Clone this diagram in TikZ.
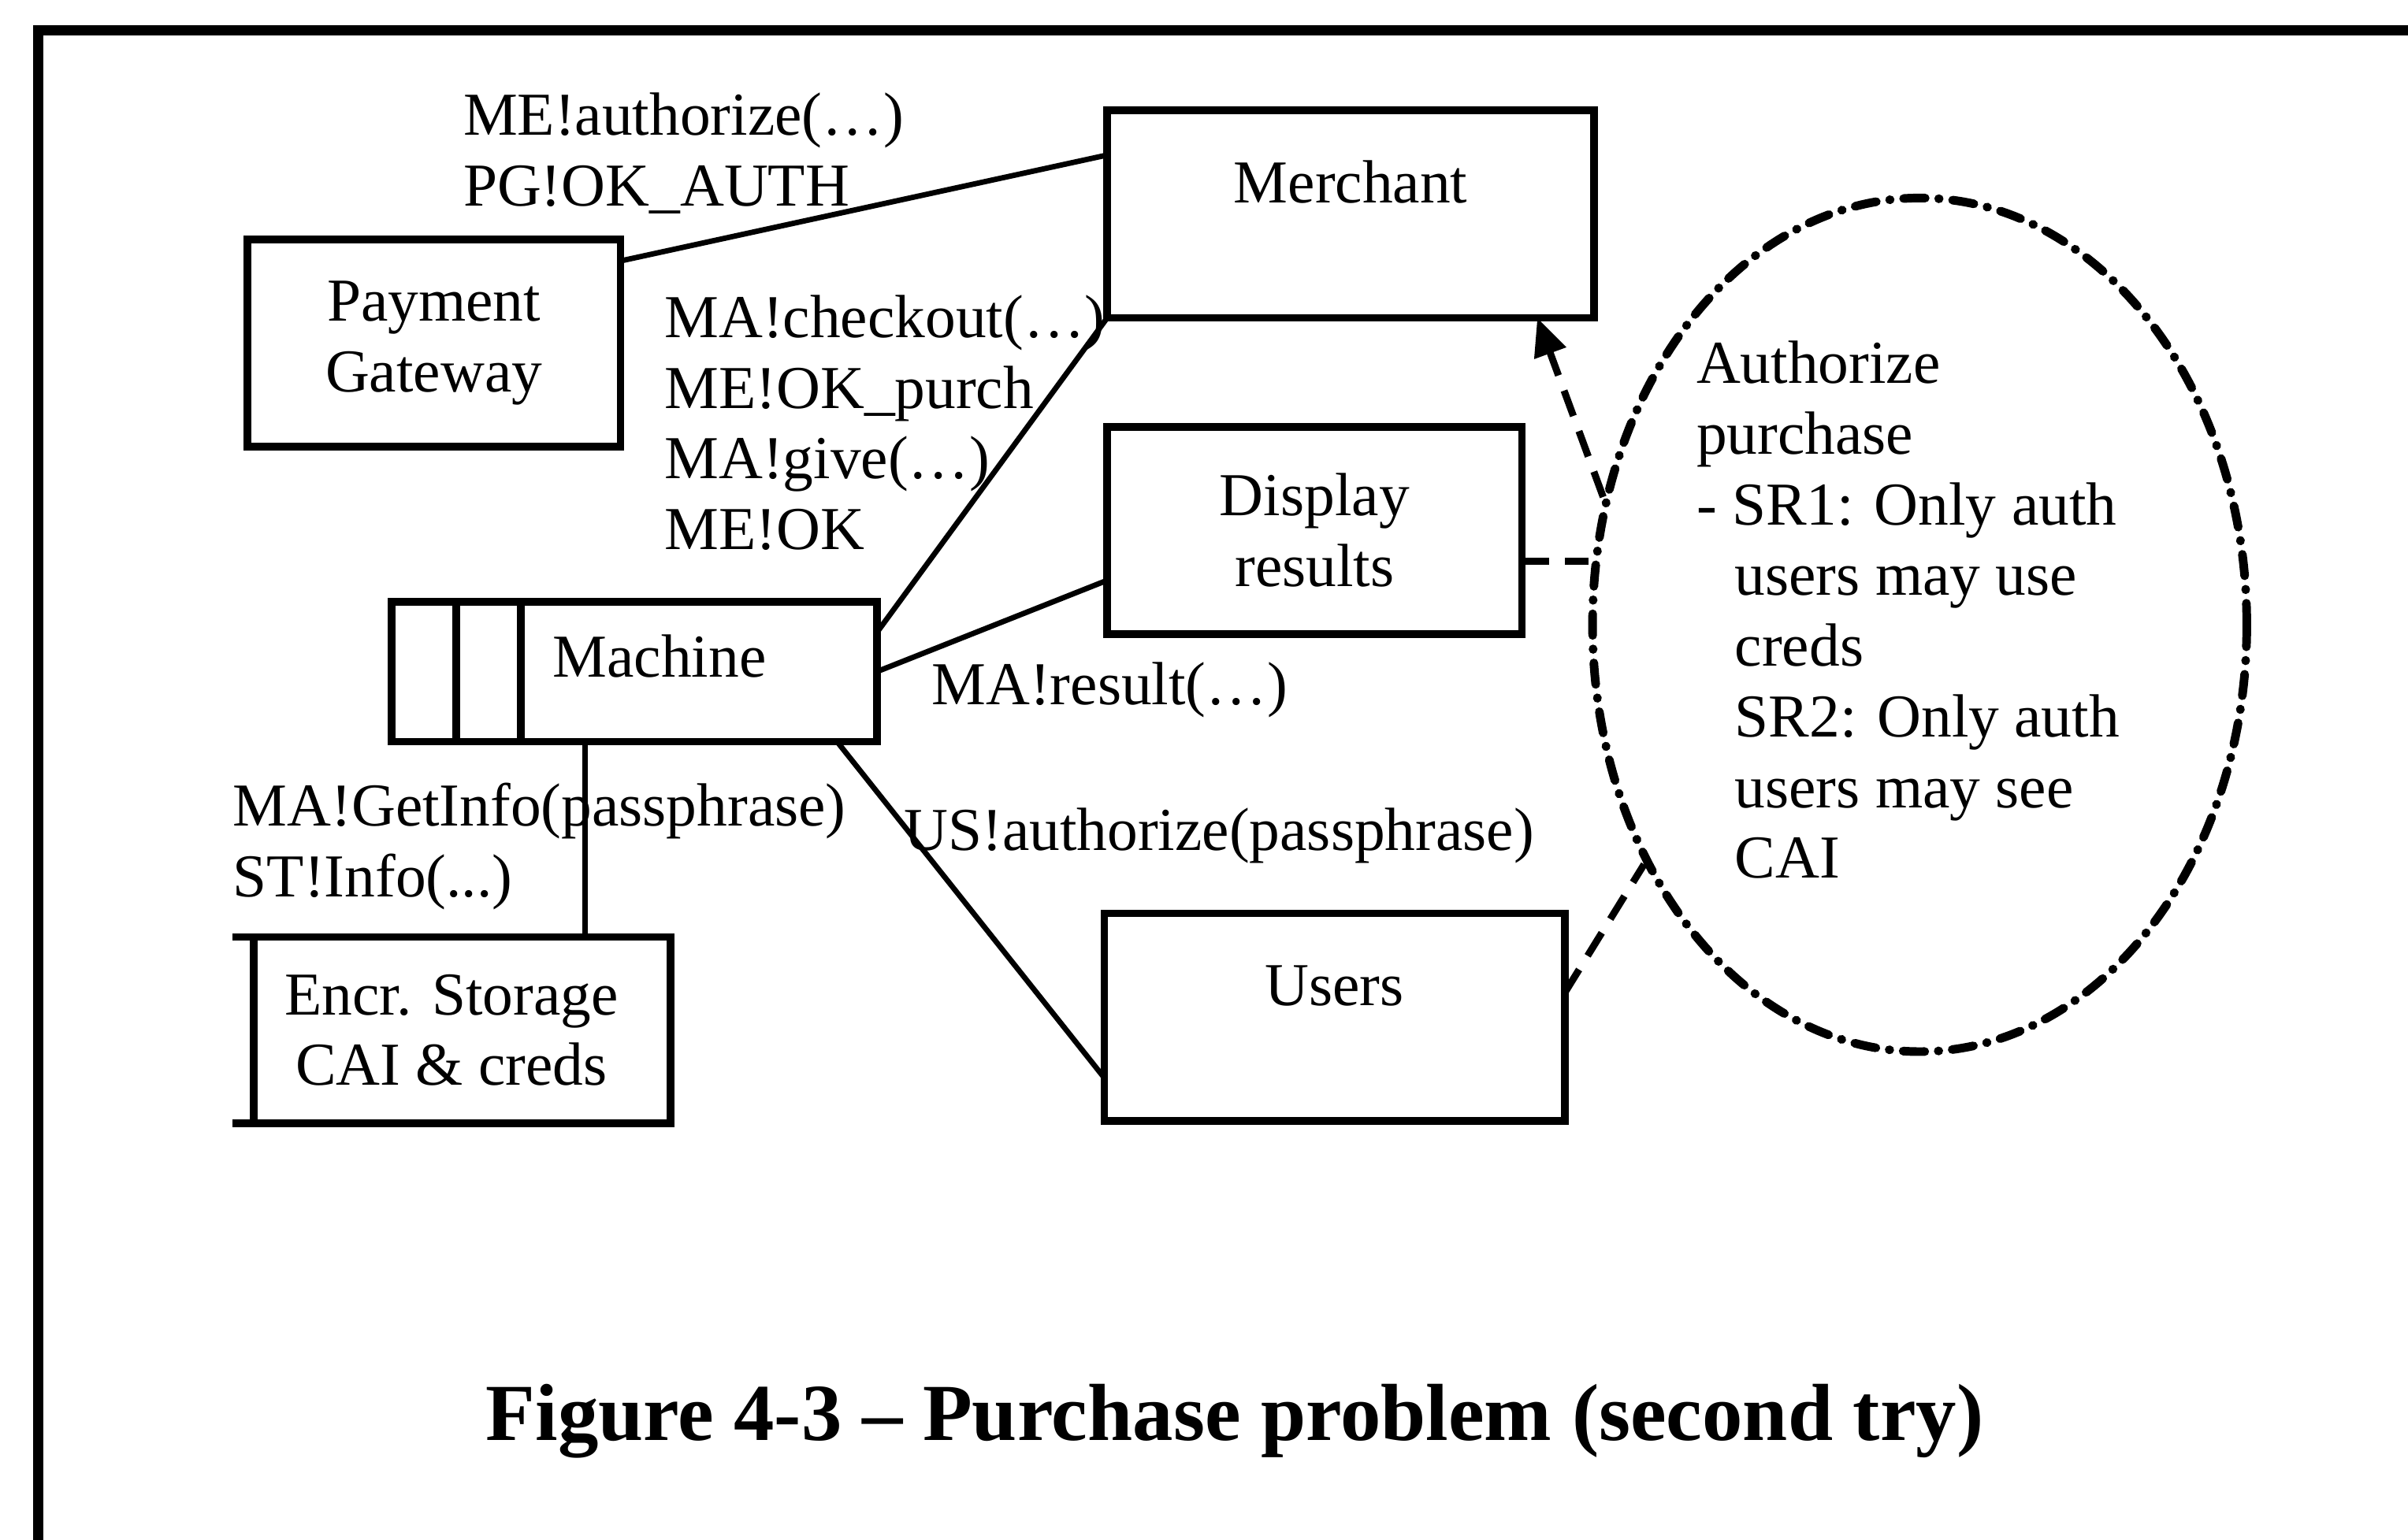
\documentclass[tikz,border=0pt]{standalone}
\usepackage{fontspec}
\setmainfont{Liberation Serif}
\usepackage{tikz}
\usetikzlibrary{positioning}
\usetikzlibrary{shapes.geometric}
\usetikzlibrary{arrows.meta}

\begin{document}
\begin{tikzpicture}[
			every node/.style={font=\fontsize{11.3}{13.1}\selectfont, inner sep=0pt},
			unitbox/.style={draw, line width=1.4pt, inner sep=0pt, outer sep=0pt, minimum height=1.35cm, align=center},
			topbox/.style={unitbox, text height=0.3cm, text depth=0.45cm, inner ysep=0.3cm},
			link/.style={line width=1pt},
			dashlink/.style={line width=1.3pt, dash pattern=on 5pt off 3pt},
			msg/.style={align=left, anchor=base west}
		]
			    		\useasboundingbox (0,0) rectangle (15.68,10.03);
			    		\draw[line width=1.9pt] (0.25,0) -- (0.25,9.83) -- (15.68,9.83);

			    		\node[unitbox, minimum width=2.43cm] (pg) at (2.825,7.795) {Payment\\Gateway};
			    		\node[topbox, minimum width=3.17cm] (merchant) at (8.795,8.635) {Merchant};
			    		\node[unitbox, minimum width=2.70cm] (display) at (8.56,6.575) {Display\\results};
			    		\node[topbox, minimum width=3.00cm] (users) at (8.69,3.405) {Users};

			    		\node[draw, line width=1.4pt, outer sep=0pt, minimum height=0.91cm, text width=1.9cm, inner xsep=0.21cm, text height=0.3cm, text depth=0.23cm, inner ysep=0.19cm, align=left] (machine) at (4.55,5.655) {Machine};
			    		\node[unitbox, minimum width=0.42cm, minimum height=0.91cm, left=0pt of machine] (slotb) {};
			    		\node[unitbox, minimum width=0.42cm, minimum height=0.91cm, left=0pt of slotb] (slota) {};

			    		\node[minimum width=2.84cm, minimum height=1.2cm, align=center] (store) at (2.94,3.32) {Encr. Storage\\CAI \& creds};
			    		\draw[line width=1.4pt] (store.north west) -- (store.north east) -- (store.south east) -- (store.south west);
			    		\draw[line width=1.4pt] ([xshift=1.4mm]store.north west) -- ([xshift=1.4mm]store.south west);

			    		\node[ellipse, draw, line width=1.6pt, line cap=round, dash pattern=on 4pt off 2.5pt on 0.1pt off 2.5pt, minimum width=4.26cm, minimum height=5.56cm] (usecase) at (12.50,5.96) {};
			    		\node[msg] (usecasetext) at (11.04,4.31) {Authorize\\purchase\\- SR1: Only auth\\\hspace*{2.5mm}users may use\\\hspace*{2.5mm}creds\\\hspace*{2.5mm}SR2: Only auth\\\hspace*{2.5mm}users may see\\\hspace*{2.5mm}CAI};

			    		\node[msg] (authmsg) at (3.01,8.69) {ME!authorize(…)\\PG!OK\_AUTH};
			    		\node[msg] (buymsg) at (4.32,6.45) {MA!checkout(…)\\ME!OK\_purch\\MA!give(…)\\ME!OK};
			    		\node[msg] (resultmsg) at (6.06,5.44) {MA!result(…)};
			    		\node[msg] (usermsg) at (5.88,4.49) {US!authorize(passphrase)};
			    		\node[msg] (infomsg) at (1.51,4.19) {MA!GetInfo(passphrase)\\ST!Info(...)};

			    		\draw[link] ([yshift=-1.4mm]pg.north east) -- ([yshift=-2.9mm]merchant.north west);
			    		\draw[link] ([yshift=-2mm]machine.north east) -- (merchant.south west);
			    		\draw[link] (machine.east) -- ([yshift=3.5mm]display.south west);
			    		\draw[link] ([xshift=-2.6mm]machine.south east) -- ([yshift=2.8mm]users.south west);
			    		\coordinate (tap) at ([xshift=4.2mm]machine.south west);
			    		\draw[link] (tap) -- (tap |- store.north);

			    		\draw[dashlink, -{Triangle[length=7pt, width=6pt]}] (usecase.158) -- ([xshift=-3.7mm]merchant.south east);
			    		\coordinate (dsp) at ([yshift=-2mm]display.east);
			    		\draw[dashlink] (dsp) -- (dsp -| usecase.west);
			    		\draw[dashlink] ([yshift=1.6mm]users.east) -- (usecase.221);

			    		\node[font=\fontsize{15}{18}\selectfont\bfseries, anchor=base] (caption) at (8.04,0.65) {Figure 4-3 – Purchase problem (second try)};
			    	\end{tikzpicture}
\end{document}
